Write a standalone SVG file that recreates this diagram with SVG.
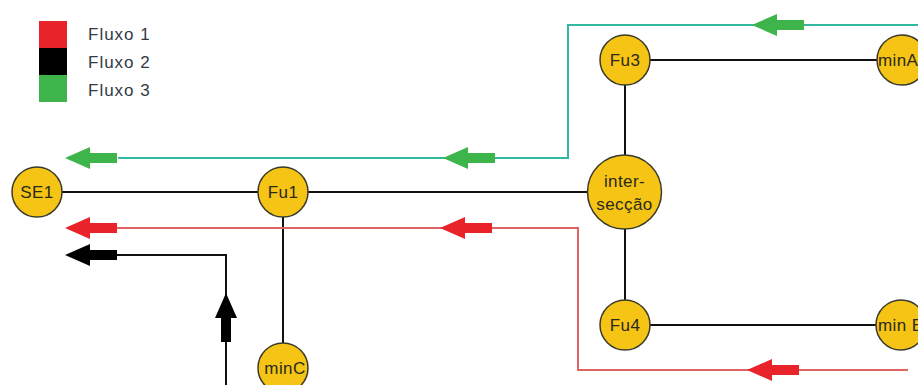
<svg xmlns="http://www.w3.org/2000/svg" width="918" height="385" viewBox="0 0 918 385">
  <style>
    .node { fill: #F5C414; stroke: #3a3a2a; stroke-width: 1.5; }
    .lbl { font-family: "Liberation Sans", Arial, sans-serif; font-size: 17px; letter-spacing: 0.4px; fill: #2a2a1a; text-anchor: middle; }
    .lbs { font-family: "Liberation Sans", Arial, sans-serif; font-size: 17px; letter-spacing: 0.4px; fill: #2a2a1a; }
    .leg { font-family: "Liberation Sans", Arial, sans-serif; font-size: 17px; letter-spacing: 1px; fill: #333a44; }
    .link { stroke: #111; stroke-width: 2; fill: none; }
    .f1 { stroke: #E06464; stroke-width: 2; fill: none; }
    .f2 { stroke: #111; stroke-width: 2; fill: none; }
    .f3 { stroke: #33B8A0; stroke-width: 2; fill: none; }
  </style>
  <defs>
    <!-- left-pointing block arrow, tip at origin -->
    <polygon id="arrL" points="0,0 25,-11 25,-5 52,-5 52,5 25,5 25,11"/>
  </defs>
  <rect width="918" height="385" fill="#fff"/>

  <!-- legend -->
  <g id="legend">
    <rect x="39" y="21" width="28" height="27" fill="#E8232A"/>
    <rect x="39" y="48" width="28" height="27" fill="#000"/>
    <rect x="39" y="75" width="28" height="27" fill="#3DB54A"/>
    <text class="leg" x="88" y="40">Fluxo 1</text>
    <text class="leg" x="88" y="68">Fluxo 2</text>
    <text class="leg" x="88" y="96">Fluxo 3</text>
  </g>

  <g id="connectors">
    <!-- network links -->
    <line class="link" x1="61" y1="192" x2="258" y2="192"/>
    <line class="link" x1="308" y1="192" x2="587" y2="192"/>
    <line class="link" x1="283" y1="217" x2="283" y2="343"/>
    <line class="link" x1="625" y1="85" x2="625" y2="155"/>
    <line class="link" x1="625" y1="229" x2="625" y2="300"/>
    <line class="link" x1="650" y1="60" x2="877" y2="60"/>
    <line class="link" x1="650" y1="325" x2="876" y2="325"/>

    <!-- flow 3 (green) -->
    <polyline class="f3" points="918,25 568,25 568,158 118,158"/>
    <use href="#arrL" x="65" y="158" fill="#3DB54A"/>
    <use href="#arrL" x="443" y="158" fill="#3DB54A"/>
    <use href="#arrL" x="752" y="25" fill="#3DB54A"/>

    <!-- flow 1 (red) -->
    <polyline class="f1" points="908,370 578,370 578,228 115,228"/>
    <use href="#arrL" x="65" y="228" fill="#E8232A"/>
    <use href="#arrL" x="440" y="228" fill="#E8232A"/>
    <use href="#arrL" x="747" y="370" fill="#E8232A"/>

    <!-- flow 2 (black) -->
    <polyline class="f2" points="226,385 226,255 115,255"/>
    <use href="#arrL" x="65" y="255" fill="#000"/>
    <polygon points="226,293 237,318 231,318 231,342 221,342 221,318 215,318" fill="#000"/>
  </g>

  <g id="SE1"><circle class="node" cx="37" cy="192" r="25"/><text class="lbl" x="37" y="198">SE1</text></g>
  <g id="Fu1"><circle class="node" cx="283" cy="192" r="25"/><text class="lbl" x="283" y="198">Fu1</text></g>
  <g id="Fu3"><circle class="node" cx="625" cy="60" r="25"/><text class="lbl" x="625" y="66">Fu3</text></g>
  <g id="Fu4"><circle class="node" cx="625" cy="325" r="25"/><text class="lbl" x="625" y="331">Fu4</text></g>
  <g id="interseccao"><circle class="node" cx="624.5" cy="192" r="37"/>
    <text class="lbl" x="624.5" y="187">inter-</text>
    <text class="lbl" x="624.5" y="210">secção</text></g>
  <g id="minA"><circle class="node" cx="902" cy="60" r="25"/><text class="lbs" x="878" y="66">minA</text></g>
  <g id="minB"><circle class="node" cx="901" cy="325" r="25"/><text class="lbs" x="878" y="331">min B</text></g>
  <g id="minC"><circle class="node" cx="283" cy="368" r="25"/><text class="lbl" x="285" y="374">minC</text></g>
</svg>
